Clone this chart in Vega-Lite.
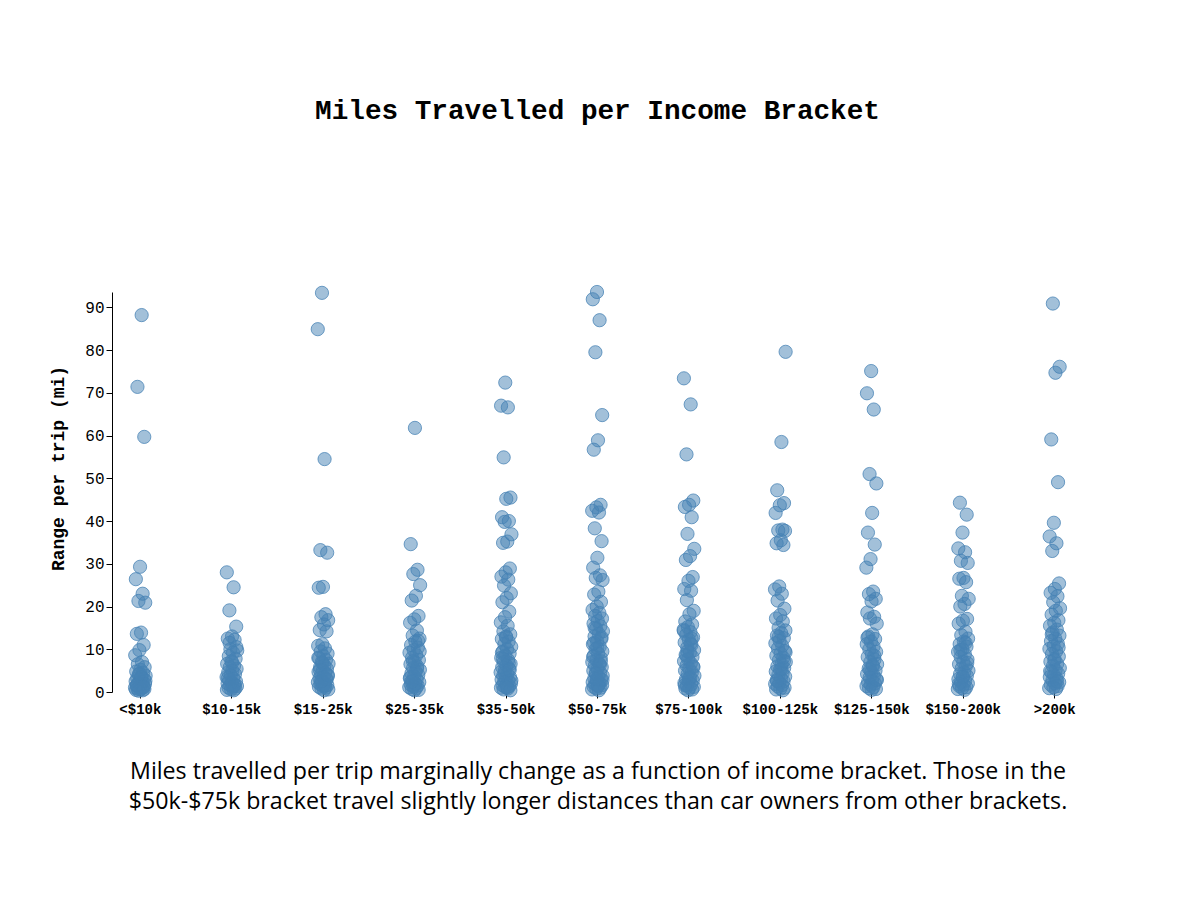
{
"$schema": "https://vega.github.io/schema/vega-lite/v6.json",
"autosize": "none",
"width": 971,
"height": 400,
"padding": {"left": 112, "top": 292, "right": 117, "bottom": 208},
"background": "white",
"title": {"text": "Miles Travelled per Income Bracket", "font": "Liberation Mono", "fontSize": 27.7, "fontWeight": "bold", "color": "black", "anchor": "middle", "frame": "group", "baseline": "alphabetic", "offset": 137},
"data": {"values": [
{"bracket":"<$10k","miles":88.2},{"bracket":"<$10k","miles":71.4},{"bracket":"<$10k","miles":59.7},{"bracket":"<$10k","miles":29.3},{"bracket":"<$10k","miles":26.4},{"bracket":"<$10k","miles":23.0},{"bracket":"<$10k","miles":21.3},{"bracket":"<$10k","miles":20.9},{"bracket":"<$10k","miles":13.9},{"bracket":"<$10k","miles":13.6},{"bracket":"<$10k","miles":11.0},{"bracket":"<$10k","miles":9.8},{"bracket":"<$10k","miles":8.6},{"bracket":"<$10k","miles":7.0},
{"bracket":"<$10k","miles":6.5},{"bracket":"<$10k","miles":5.8},{"bracket":"<$10k","miles":5.2},{"bracket":"<$10k","miles":4.8},{"bracket":"<$10k","miles":4.5},{"bracket":"<$10k","miles":4.1},{"bracket":"<$10k","miles":3.8},{"bracket":"<$10k","miles":3.5},{"bracket":"<$10k","miles":3.2},{"bracket":"<$10k","miles":3.0},{"bracket":"<$10k","miles":2.8},{"bracket":"<$10k","miles":2.5},{"bracket":"<$10k","miles":2.3},{"bracket":"<$10k","miles":2.1},{"bracket":"<$10k","miles":1.9},{"bracket":"<$10k","miles":1.7},{"bracket":"<$10k","miles":1.5},{"bracket":"<$10k","miles":1.3},{"bracket":"<$10k","miles":1.2},{"bracket":"<$10k","miles":1.0},{"bracket":"<$10k","miles":0.9},{"bracket":"<$10k","miles":0.8},{"bracket":"<$10k","miles":0.7},{"bracket":"<$10k","miles":0.6},{"bracket":"<$10k","miles":0.5},{"bracket":"<$10k","miles":0.4},{"bracket":"<$10k","miles":0.3},{"bracket":"<$10k","miles":2.6},{"bracket":"<$10k","miles":3.4},{"bracket":"<$10k","miles":1.6},{"bracket":"<$10k","miles":1.1},{"bracket":"<$10k","miles":4.3},
{"bracket":"$10-15k","miles":28.0},{"bracket":"$10-15k","miles":24.5},{"bracket":"$10-15k","miles":19.1},{"bracket":"$10-15k","miles":15.3},{"bracket":"$10-15k","miles":13.0},{"bracket":"$10-15k","miles":12.5},{"bracket":"$10-15k","miles":12.2},{"bracket":"$10-15k","miles":10.0},{"bracket":"$10-15k","miles":9.7},{"bracket":"$10-15k","miles":9.2},{"bracket":"$10-15k","miles":8.4},{"bracket":"$10-15k","miles":7.8},{"bracket":"$10-15k","miles":7.2},{"bracket":"$10-15k","miles":6.6},{"bracket":"$10-15k","miles":6.1},{"bracket":"$10-15k","miles":5.8},{"bracket":"$10-15k","miles":5.4},{"bracket":"$10-15k","miles":5.0},{"bracket":"$10-15k","miles":4.6},{"bracket":"$10-15k","miles":4.2},{"bracket":"$10-15k","miles":3.9},{"bracket":"$10-15k","miles":3.5},{"bracket":"$10-15k","miles":3.1},{"bracket":"$10-15k","miles":2.8},{"bracket":"$10-15k","miles":2.5},{"bracket":"$10-15k","miles":2.2},{"bracket":"$10-15k","miles":2.0},{"bracket":"$10-15k","miles":1.8},{"bracket":"$10-15k","miles":1.6},{"bracket":"$10-15k","miles":1.4},{"bracket":"$10-15k","miles":1.2},{"bracket":"$10-15k","miles":1.0},{"bracket":"$10-15k","miles":0.8},{"bracket":"$10-15k","miles":0.6},{"bracket":"$10-15k","miles":0.5},{"bracket":"$10-15k","miles":0.4},{"bracket":"$10-15k","miles":11.5},{"bracket":"$10-15k","miles":10.5},{"bracket":"$10-15k","miles":6.9},{"bracket":"$10-15k","miles":3.3},{"bracket":"$10-15k","miles":1.5},
{"bracket":"$15-25k","miles":93.4},{"bracket":"$15-25k","miles":84.9},{"bracket":"$15-25k","miles":54.5},{"bracket":"$15-25k","miles":33.2},{"bracket":"$15-25k","miles":32.6},{"bracket":"$15-25k","miles":24.6},{"bracket":"$15-25k","miles":24.4},{"bracket":"$15-25k","miles":18.2},{"bracket":"$15-25k","miles":17.5},{"bracket":"$15-25k","miles":16.8},{"bracket":"$15-25k","miles":15.8},{"bracket":"$15-25k","miles":14.5},{"bracket":"$15-25k","miles":14.2},{"bracket":"$15-25k","miles":11.2},{"bracket":"$15-25k","miles":10.8},{"bracket":"$15-25k","miles":10.2},{"bracket":"$15-25k","miles":9.5},{"bracket":"$15-25k","miles":9.0},{"bracket":"$15-25k","miles":8.4},{"bracket":"$15-25k","miles":7.9},{"bracket":"$15-25k","miles":7.5},{"bracket":"$15-25k","miles":7.0},{"bracket":"$15-25k","miles":6.6},{"bracket":"$15-25k","miles":6.2},{"bracket":"$15-25k","miles":5.8},{"bracket":"$15-25k","miles":5.4},{"bracket":"$15-25k","miles":5.0},{"bracket":"$15-25k","miles":4.7},{"bracket":"$15-25k","miles":4.4},{"bracket":"$15-25k","miles":4.1},{"bracket":"$15-25k","miles":3.8},{"bracket":"$15-25k","miles":3.5},{"bracket":"$15-25k","miles":3.2},{"bracket":"$15-25k","miles":2.9},{"bracket":"$15-25k","miles":2.6},{"bracket":"$15-25k","miles":2.3},{"bracket":"$15-25k","miles":2.0},{"bracket":"$15-25k","miles":1.8},{"bracket":"$15-25k","miles":1.6},{"bracket":"$15-25k","miles":1.4},{"bracket":"$15-25k","miles":1.2},{"bracket":"$15-25k","miles":1.0},{"bracket":"$15-25k","miles":0.8},{"bracket":"$15-25k","miles":0.6},{"bracket":"$15-25k","miles":0.4},{"bracket":"$15-25k","miles":5.2},{"bracket":"$15-25k","miles":3.0},{"bracket":"$15-25k","miles":6.8},{"bracket":"$15-25k","miles":8.0},{"bracket":"$15-25k","miles":1.5},{"bracket":"$15-25k","miles":2.5},{"bracket":"$15-25k","miles":4.0},
{"bracket":"$25-35k","miles":61.8},{"bracket":"$25-35k","miles":34.6},{"bracket":"$25-35k","miles":28.6},{"bracket":"$25-35k","miles":27.6},{"bracket":"$25-35k","miles":25.0},{"bracket":"$25-35k","miles":22.5},{"bracket":"$25-35k","miles":21.4},{"bracket":"$25-35k","miles":17.8},{"bracket":"$25-35k","miles":17.0},{"bracket":"$25-35k","miles":16.2},{"bracket":"$25-35k","miles":14.4},{"bracket":"$25-35k","miles":13.2},{"bracket":"$25-35k","miles":12.5},{"bracket":"$25-35k","miles":11.8},{"bracket":"$25-35k","miles":11.0},{"bracket":"$25-35k","miles":10.4},{"bracket":"$25-35k","miles":9.8},{"bracket":"$25-35k","miles":9.2},{"bracket":"$25-35k","miles":8.6},{"bracket":"$25-35k","miles":8.0},{"bracket":"$25-35k","miles":7.5},{"bracket":"$25-35k","miles":7.0},{"bracket":"$25-35k","miles":6.5},{"bracket":"$25-35k","miles":6.0},{"bracket":"$25-35k","miles":5.6},{"bracket":"$25-35k","miles":5.2},{"bracket":"$25-35k","miles":4.8},{"bracket":"$25-35k","miles":4.4},{"bracket":"$25-35k","miles":4.0},{"bracket":"$25-35k","miles":3.6},{"bracket":"$25-35k","miles":3.2},{"bracket":"$25-35k","miles":2.9},{"bracket":"$25-35k","miles":2.6},{"bracket":"$25-35k","miles":2.3},{"bracket":"$25-35k","miles":2.0},{"bracket":"$25-35k","miles":1.7},{"bracket":"$25-35k","miles":1.5},{"bracket":"$25-35k","miles":1.3},{"bracket":"$25-35k","miles":1.1},{"bracket":"$25-35k","miles":0.9},{"bracket":"$25-35k","miles":0.7},{"bracket":"$25-35k","miles":0.5},{"bracket":"$25-35k","miles":0.4},{"bracket":"$25-35k","miles":3.4},{"bracket":"$25-35k","miles":5.5},{"bracket":"$25-35k","miles":7.2},{"bracket":"$25-35k","miles":9.5},{"bracket":"$25-35k","miles":1.9},{"bracket":"$25-35k","miles":2.4},{"bracket":"$25-35k","miles":12.0},
{"bracket":"$35-50k","miles":72.4},{"bracket":"$35-50k","miles":67.0},{"bracket":"$35-50k","miles":66.6},{"bracket":"$35-50k","miles":54.9},{"bracket":"$35-50k","miles":45.5},{"bracket":"$35-50k","miles":45.2},{"bracket":"$35-50k","miles":40.9},{"bracket":"$35-50k","miles":40.0},{"bracket":"$35-50k","miles":39.8},{"bracket":"$35-50k","miles":36.9},{"bracket":"$35-50k","miles":35.2},{"bracket":"$35-50k","miles":34.9},{"bracket":"$35-50k","miles":28.9},{"bracket":"$35-50k","miles":28.0},{"bracket":"$35-50k","miles":27.0},{"bracket":"$35-50k","miles":26.3},{"bracket":"$35-50k","miles":24.9},{"bracket":"$35-50k","miles":23.1},{"bracket":"$35-50k","miles":22.0},{"bracket":"$35-50k","miles":21.0},{"bracket":"$35-50k","miles":18.8},{"bracket":"$35-50k","miles":17.5},{"bracket":"$35-50k","miles":16.3},{"bracket":"$35-50k","miles":15.5},{"bracket":"$35-50k","miles":14.2},{"bracket":"$35-50k","miles":13.5},{"bracket":"$35-50k","miles":13.0},{"bracket":"$35-50k","miles":12.4},{"bracket":"$35-50k","miles":11.8},{"bracket":"$35-50k","miles":11.2},{"bracket":"$35-50k","miles":10.6},{"bracket":"$35-50k","miles":10.0},{"bracket":"$35-50k","miles":9.5},{"bracket":"$35-50k","miles":9.0},{"bracket":"$35-50k","miles":8.5},{"bracket":"$35-50k","miles":8.0},{"bracket":"$35-50k","miles":7.5},{"bracket":"$35-50k","miles":7.0},{"bracket":"$35-50k","miles":6.6},{"bracket":"$35-50k","miles":6.2},{"bracket":"$35-50k","miles":5.8},{"bracket":"$35-50k","miles":5.4},{"bracket":"$35-50k","miles":5.0},{"bracket":"$35-50k","miles":4.6},{"bracket":"$35-50k","miles":4.2},{"bracket":"$35-50k","miles":3.8},{"bracket":"$35-50k","miles":3.5},{"bracket":"$35-50k","miles":3.2},{"bracket":"$35-50k","miles":2.9},{"bracket":"$35-50k","miles":2.6},{"bracket":"$35-50k","miles":2.3},{"bracket":"$35-50k","miles":2.0},{"bracket":"$35-50k","miles":1.8},{"bracket":"$35-50k","miles":1.6},{"bracket":"$35-50k","miles":1.4},{"bracket":"$35-50k","miles":1.2},{"bracket":"$35-50k","miles":1.0},{"bracket":"$35-50k","miles":0.8},{"bracket":"$35-50k","miles":0.6},{"bracket":"$35-50k","miles":0.4},{"bracket":"$35-50k","miles":12.8},{"bracket":"$35-50k","miles":9.2},{"bracket":"$35-50k","miles":6.8},{"bracket":"$35-50k","miles":4.4},{"bracket":"$35-50k","miles":2.7},{"bracket":"$35-50k","miles":1.1},{"bracket":"$35-50k","miles":7.8},{"bracket":"$35-50k","miles":5.2},
{"bracket":"$50-75k","miles":93.6},{"bracket":"$50-75k","miles":91.9},{"bracket":"$50-75k","miles":87.0},{"bracket":"$50-75k","miles":79.5},{"bracket":"$50-75k","miles":64.8},{"bracket":"$50-75k","miles":58.9},{"bracket":"$50-75k","miles":56.7},{"bracket":"$50-75k","miles":43.8},{"bracket":"$50-75k","miles":43.2},{"bracket":"$50-75k","miles":42.4},{"bracket":"$50-75k","miles":42.0},{"bracket":"$50-75k","miles":38.3},{"bracket":"$50-75k","miles":35.3},{"bracket":"$50-75k","miles":31.4},{"bracket":"$50-75k","miles":29.1},{"bracket":"$50-75k","miles":27.3},{"bracket":"$50-75k","miles":26.7},{"bracket":"$50-75k","miles":26.2},{"bracket":"$50-75k","miles":23.5},{"bracket":"$50-75k","miles":22.8},{"bracket":"$50-75k","miles":21.1},{"bracket":"$50-75k","miles":20.0},{"bracket":"$50-75k","miles":19.2},{"bracket":"$50-75k","miles":18.5},{"bracket":"$50-75k","miles":17.8},{"bracket":"$50-75k","miles":17.2},{"bracket":"$50-75k","miles":16.6},{"bracket":"$50-75k","miles":16.0},{"bracket":"$50-75k","miles":15.4},{"bracket":"$50-75k","miles":14.8},{"bracket":"$50-75k","miles":14.2},{"bracket":"$50-75k","miles":13.6},{"bracket":"$50-75k","miles":13.0},{"bracket":"$50-75k","miles":12.4},{"bracket":"$50-75k","miles":11.8},{"bracket":"$50-75k","miles":11.2},{"bracket":"$50-75k","miles":10.6},{"bracket":"$50-75k","miles":10.0},{"bracket":"$50-75k","miles":9.5},{"bracket":"$50-75k","miles":9.0},{"bracket":"$50-75k","miles":8.5},{"bracket":"$50-75k","miles":8.0},{"bracket":"$50-75k","miles":7.5},{"bracket":"$50-75k","miles":7.0},{"bracket":"$50-75k","miles":6.6},{"bracket":"$50-75k","miles":6.2},{"bracket":"$50-75k","miles":5.8},{"bracket":"$50-75k","miles":5.4},{"bracket":"$50-75k","miles":5.0},{"bracket":"$50-75k","miles":4.6},{"bracket":"$50-75k","miles":4.2},{"bracket":"$50-75k","miles":3.8},{"bracket":"$50-75k","miles":3.5},{"bracket":"$50-75k","miles":3.2},{"bracket":"$50-75k","miles":2.9},{"bracket":"$50-75k","miles":2.6},{"bracket":"$50-75k","miles":2.3},{"bracket":"$50-75k","miles":2.0},{"bracket":"$50-75k","miles":1.8},{"bracket":"$50-75k","miles":1.6},{"bracket":"$50-75k","miles":1.4},{"bracket":"$50-75k","miles":1.2},{"bracket":"$50-75k","miles":1.0},{"bracket":"$50-75k","miles":0.8},{"bracket":"$50-75k","miles":0.6},{"bracket":"$50-75k","miles":0.4},{"bracket":"$50-75k","miles":15.0},{"bracket":"$50-75k","miles":12.8},{"bracket":"$50-75k","miles":10.3},{"bracket":"$50-75k","miles":8.2},{"bracket":"$50-75k","miles":6.4},{"bracket":"$50-75k","miles":4.4},{"bracket":"$50-75k","miles":2.8},{"bracket":"$50-75k","miles":1.5},{"bracket":"$50-75k","miles":11.5},{"bracket":"$50-75k","miles":7.2},{"bracket":"$50-75k","miles":3.0},
{"bracket":"$75-100k","miles":73.4},{"bracket":"$75-100k","miles":67.3},{"bracket":"$75-100k","miles":55.6},{"bracket":"$75-100k","miles":44.8},{"bracket":"$75-100k","miles":43.8},{"bracket":"$75-100k","miles":43.3},{"bracket":"$75-100k","miles":40.9},{"bracket":"$75-100k","miles":37.0},{"bracket":"$75-100k","miles":33.5},{"bracket":"$75-100k","miles":31.8},{"bracket":"$75-100k","miles":30.9},{"bracket":"$75-100k","miles":26.9},{"bracket":"$75-100k","miles":26.0},{"bracket":"$75-100k","miles":24.1},{"bracket":"$75-100k","miles":23.7},{"bracket":"$75-100k","miles":21.5},{"bracket":"$75-100k","miles":19.0},{"bracket":"$75-100k","miles":18.2},{"bracket":"$75-100k","miles":16.5},{"bracket":"$75-100k","miles":15.8},{"bracket":"$75-100k","miles":15.2},{"bracket":"$75-100k","miles":14.6},{"bracket":"$75-100k","miles":14.0},{"bracket":"$75-100k","miles":13.4},{"bracket":"$75-100k","miles":12.8},{"bracket":"$75-100k","miles":12.2},{"bracket":"$75-100k","miles":11.6},{"bracket":"$75-100k","miles":11.0},{"bracket":"$75-100k","miles":10.4},{"bracket":"$75-100k","miles":9.8},{"bracket":"$75-100k","miles":9.2},{"bracket":"$75-100k","miles":8.7},{"bracket":"$75-100k","miles":8.2},{"bracket":"$75-100k","miles":7.7},{"bracket":"$75-100k","miles":7.2},{"bracket":"$75-100k","miles":6.7},{"bracket":"$75-100k","miles":6.2},{"bracket":"$75-100k","miles":5.8},{"bracket":"$75-100k","miles":5.4},{"bracket":"$75-100k","miles":5.0},{"bracket":"$75-100k","miles":4.6},{"bracket":"$75-100k","miles":4.2},{"bracket":"$75-100k","miles":3.8},{"bracket":"$75-100k","miles":3.4},{"bracket":"$75-100k","miles":3.0},{"bracket":"$75-100k","miles":2.7},{"bracket":"$75-100k","miles":2.4},{"bracket":"$75-100k","miles":2.1},{"bracket":"$75-100k","miles":1.8},{"bracket":"$75-100k","miles":1.5},{"bracket":"$75-100k","miles":1.2},{"bracket":"$75-100k","miles":1.0},{"bracket":"$75-100k","miles":0.8},{"bracket":"$75-100k","miles":0.6},{"bracket":"$75-100k","miles":0.4},{"bracket":"$75-100k","miles":14.3},{"bracket":"$75-100k","miles":11.3},{"bracket":"$75-100k","miles":8.5},{"bracket":"$75-100k","miles":6.0},{"bracket":"$75-100k","miles":3.2},{"bracket":"$75-100k","miles":1.6},{"bracket":"$75-100k","miles":12.5},{"bracket":"$75-100k","miles":9.5},
{"bracket":"$100-125k","miles":79.6},{"bracket":"$100-125k","miles":58.5},{"bracket":"$100-125k","miles":47.2},{"bracket":"$100-125k","miles":44.2},{"bracket":"$100-125k","miles":43.7},{"bracket":"$100-125k","miles":41.9},{"bracket":"$100-125k","miles":38.0},{"bracket":"$100-125k","miles":37.8},{"bracket":"$100-125k","miles":37.7},{"bracket":"$100-125k","miles":35.5},{"bracket":"$100-125k","miles":34.8},{"bracket":"$100-125k","miles":34.4},{"bracket":"$100-125k","miles":24.7},{"bracket":"$100-125k","miles":24.0},{"bracket":"$100-125k","miles":23.0},{"bracket":"$100-125k","miles":21.4},{"bracket":"$100-125k","miles":19.5},{"bracket":"$100-125k","miles":18.0},{"bracket":"$100-125k","miles":17.2},{"bracket":"$100-125k","miles":16.5},{"bracket":"$100-125k","miles":15.0},{"bracket":"$100-125k","miles":14.4},{"bracket":"$100-125k","miles":13.8},{"bracket":"$100-125k","miles":13.2},{"bracket":"$100-125k","miles":12.6},{"bracket":"$100-125k","miles":12.0},{"bracket":"$100-125k","miles":11.4},{"bracket":"$100-125k","miles":10.8},{"bracket":"$100-125k","miles":10.2},{"bracket":"$100-125k","miles":9.6},{"bracket":"$100-125k","miles":9.0},{"bracket":"$100-125k","miles":8.5},{"bracket":"$100-125k","miles":8.0},{"bracket":"$100-125k","miles":7.5},{"bracket":"$100-125k","miles":7.0},{"bracket":"$100-125k","miles":6.5},{"bracket":"$100-125k","miles":6.0},{"bracket":"$100-125k","miles":5.6},{"bracket":"$100-125k","miles":5.2},{"bracket":"$100-125k","miles":4.8},{"bracket":"$100-125k","miles":4.4},{"bracket":"$100-125k","miles":4.0},{"bracket":"$100-125k","miles":3.6},{"bracket":"$100-125k","miles":3.2},{"bracket":"$100-125k","miles":2.8},{"bracket":"$100-125k","miles":2.5},{"bracket":"$100-125k","miles":2.2},{"bracket":"$100-125k","miles":1.9},{"bracket":"$100-125k","miles":1.6},{"bracket":"$100-125k","miles":1.3},{"bracket":"$100-125k","miles":1.0},{"bracket":"$100-125k","miles":0.8},{"bracket":"$100-125k","miles":0.6},{"bracket":"$100-125k","miles":0.4},{"bracket":"$100-125k","miles":12.9},{"bracket":"$100-125k","miles":9.3},{"bracket":"$100-125k","miles":5.4},{"bracket":"$100-125k","miles":2.6},{"bracket":"$100-125k","miles":7.3},
{"bracket":"$125-150k","miles":75.1},{"bracket":"$125-150k","miles":69.9},{"bracket":"$125-150k","miles":66.1},{"bracket":"$125-150k","miles":51.0},{"bracket":"$125-150k","miles":48.8},{"bracket":"$125-150k","miles":41.9},{"bracket":"$125-150k","miles":37.3},{"bracket":"$125-150k","miles":34.5},{"bracket":"$125-150k","miles":31.1},{"bracket":"$125-150k","miles":29.1},{"bracket":"$125-150k","miles":23.5},{"bracket":"$125-150k","miles":22.9},{"bracket":"$125-150k","miles":21.8},{"bracket":"$125-150k","miles":21.2},{"bracket":"$125-150k","miles":18.6},{"bracket":"$125-150k","miles":17.6},{"bracket":"$125-150k","miles":17.2},{"bracket":"$125-150k","miles":16.0},{"bracket":"$125-150k","miles":13.5},{"bracket":"$125-150k","miles":13.0},{"bracket":"$125-150k","miles":12.4},{"bracket":"$125-150k","miles":11.8},{"bracket":"$125-150k","miles":11.2},{"bracket":"$125-150k","miles":10.6},{"bracket":"$125-150k","miles":10.0},{"bracket":"$125-150k","miles":9.4},{"bracket":"$125-150k","miles":8.8},{"bracket":"$125-150k","miles":8.2},{"bracket":"$125-150k","miles":7.6},{"bracket":"$125-150k","miles":7.0},{"bracket":"$125-150k","miles":6.5},{"bracket":"$125-150k","miles":6.0},{"bracket":"$125-150k","miles":5.5},{"bracket":"$125-150k","miles":5.0},{"bracket":"$125-150k","miles":4.6},{"bracket":"$125-150k","miles":4.2},{"bracket":"$125-150k","miles":3.8},{"bracket":"$125-150k","miles":3.4},{"bracket":"$125-150k","miles":3.0},{"bracket":"$125-150k","miles":2.6},{"bracket":"$125-150k","miles":2.3},{"bracket":"$125-150k","miles":2.0},{"bracket":"$125-150k","miles":1.7},{"bracket":"$125-150k","miles":1.4},{"bracket":"$125-150k","miles":1.1},{"bracket":"$125-150k","miles":0.9},{"bracket":"$125-150k","miles":0.7},{"bracket":"$125-150k","miles":0.5},{"bracket":"$125-150k","miles":12.7},{"bracket":"$125-150k","miles":8.5},{"bracket":"$125-150k","miles":5.3},{"bracket":"$125-150k","miles":2.8},{"bracket":"$125-150k","miles":6.3},
{"bracket":"$150-200k","miles":44.3},{"bracket":"$150-200k","miles":41.5},{"bracket":"$150-200k","miles":37.3},{"bracket":"$150-200k","miles":33.6},{"bracket":"$150-200k","miles":32.7},{"bracket":"$150-200k","miles":30.7},{"bracket":"$150-200k","miles":30.2},{"bracket":"$150-200k","miles":26.7},{"bracket":"$150-200k","miles":26.5},{"bracket":"$150-200k","miles":25.7},{"bracket":"$150-200k","miles":22.5},{"bracket":"$150-200k","miles":21.8},{"bracket":"$150-200k","miles":20.6},{"bracket":"$150-200k","miles":20.0},{"bracket":"$150-200k","miles":17.1},{"bracket":"$150-200k","miles":16.7},{"bracket":"$150-200k","miles":16.0},{"bracket":"$150-200k","miles":14.1},{"bracket":"$150-200k","miles":13.3},{"bracket":"$150-200k","miles":12.5},{"bracket":"$150-200k","miles":11.8},{"bracket":"$150-200k","miles":11.2},{"bracket":"$150-200k","miles":10.6},{"bracket":"$150-200k","miles":10.0},{"bracket":"$150-200k","miles":9.4},{"bracket":"$150-200k","miles":8.8},{"bracket":"$150-200k","miles":8.2},{"bracket":"$150-200k","miles":7.6},{"bracket":"$150-200k","miles":7.0},{"bracket":"$150-200k","miles":6.5},{"bracket":"$150-200k","miles":6.0},{"bracket":"$150-200k","miles":5.5},{"bracket":"$150-200k","miles":5.0},{"bracket":"$150-200k","miles":4.6},{"bracket":"$150-200k","miles":4.2},{"bracket":"$150-200k","miles":3.8},{"bracket":"$150-200k","miles":3.4},{"bracket":"$150-200k","miles":3.0},{"bracket":"$150-200k","miles":2.6},{"bracket":"$150-200k","miles":2.3},{"bracket":"$150-200k","miles":2.0},{"bracket":"$150-200k","miles":1.7},{"bracket":"$150-200k","miles":1.4},{"bracket":"$150-200k","miles":1.1},{"bracket":"$150-200k","miles":0.9},{"bracket":"$150-200k","miles":0.7},{"bracket":"$150-200k","miles":0.5},{"bracket":"$150-200k","miles":9.8},{"bracket":"$150-200k","miles":6.8},{"bracket":"$150-200k","miles":3.6},{"bracket":"$150-200k","miles":1.9},{"bracket":"$150-200k","miles":11.5},
{"bracket":">200k","miles":90.9},{"bracket":">200k","miles":76.1},{"bracket":">200k","miles":74.7},{"bracket":">200k","miles":59.1},{"bracket":">200k","miles":49.1},{"bracket":">200k","miles":39.6},{"bracket":">200k","miles":36.4},{"bracket":">200k","miles":34.8},{"bracket":">200k","miles":33.0},{"bracket":">200k","miles":25.4},{"bracket":">200k","miles":24.1},{"bracket":">200k","miles":23.2},{"bracket":">200k","miles":22.4},{"bracket":">200k","miles":21.0},{"bracket":">200k","miles":19.6},{"bracket":">200k","miles":19.0},{"bracket":">200k","miles":18.1},{"bracket":">200k","miles":16.8},{"bracket":">200k","miles":16.2},{"bracket":">200k","miles":15.5},{"bracket":">200k","miles":14.6},{"bracket":">200k","miles":13.9},{"bracket":">200k","miles":13.2},{"bracket":">200k","miles":12.5},{"bracket":">200k","miles":11.9},{"bracket":">200k","miles":11.3},{"bracket":">200k","miles":10.7},{"bracket":">200k","miles":10.1},{"bracket":">200k","miles":9.5},{"bracket":">200k","miles":8.9},{"bracket":">200k","miles":8.3},{"bracket":">200k","miles":7.7},{"bracket":">200k","miles":7.1},{"bracket":">200k","miles":6.6},{"bracket":">200k","miles":6.1},{"bracket":">200k","miles":5.6},{"bracket":">200k","miles":5.1},{"bracket":">200k","miles":4.7},{"bracket":">200k","miles":4.3},{"bracket":">200k","miles":3.9},{"bracket":">200k","miles":3.5},{"bracket":">200k","miles":3.1},{"bracket":">200k","miles":2.7},{"bracket":">200k","miles":2.3},{"bracket":">200k","miles":2.0},{"bracket":">200k","miles":1.7},{"bracket":">200k","miles":1.4},{"bracket":">200k","miles":1.1},{"bracket":">200k","miles":0.9},{"bracket":">200k","miles":0.7},{"bracket":">200k","miles":13.5},{"bracket":">200k","miles":10.4},{"bracket":">200k","miles":7.4},{"bracket":">200k","miles":4.9},{"bracket":">200k","miles":2.5}
]},
"transform": [
{"window": [{"op": "row_number", "as": "rank"}]},
{"calculate": "(datum.rank * 0.6180339887) % 1", "as": "jitter"}
],
"mark": {"type": "circle", "size": 175, "color": "steelblue", "fillOpacity": 0.5, "stroke": "steelblue", "strokeOpacity": 0.75, "strokeWidth": 1},
"encoding": {
"x": {"field": "bracket", "type": "nominal", "sort": ["<$10k","$10-15k","$15-25k","$25-35k","$35-50k","$50-75k","$75-100k","$100-125k","$125-150k","$150-200k",">200k"],
"scale": {"type": "band", "paddingInner": 0.88, "paddingOuter": 0.25},
"axis": {"title": ["Miles travelled per trip marginally change as a function of income bracket. Those in the", "$50k-$75k bracket travel slightly longer distances than car owners from other brackets."], "titleFont": "Open Sans", "titleFontSize": 23.2, "titleFontWeight": "normal", "titleColor": "black", "titleLineHeight": 30, "titlePadding": 44, "labelAngle": 0, "labelFont": "Liberation Mono", "labelFontWeight": "bold", "labelFontSize": 14, "labelColor": "black", "labelPadding": 4, "domain": false, "ticks": true, "tickSize": 6, "tickColor": "black", "grid": false}},
"xOffset": {"field": "jitter", "type": "quantitative", "scale": {"domain": [0, 1], "range": [0, 11]}},
"y": {"field": "miles", "type": "quantitative", "scale": {"domain": [0, 93.6], "nice": false},
"axis": {"title": "Range per trip (mi)", "titleFont": "Liberation Mono", "titleFontSize": 18, "titleFontWeight": "bold", "titleColor": "black", "titlePadding": 17, "titleY": 176, "values": [0,10,20,30,40,50,60,70,80,90], "labelFont": "Liberation Mono", "labelFontSize": 16, "labelColor": "black", "labelPadding": 2, "tickSize": 6, "tickColor": "black", "domainColor": "black", "grid": false}}
},
"config": {"view": {"stroke": null}}
}
